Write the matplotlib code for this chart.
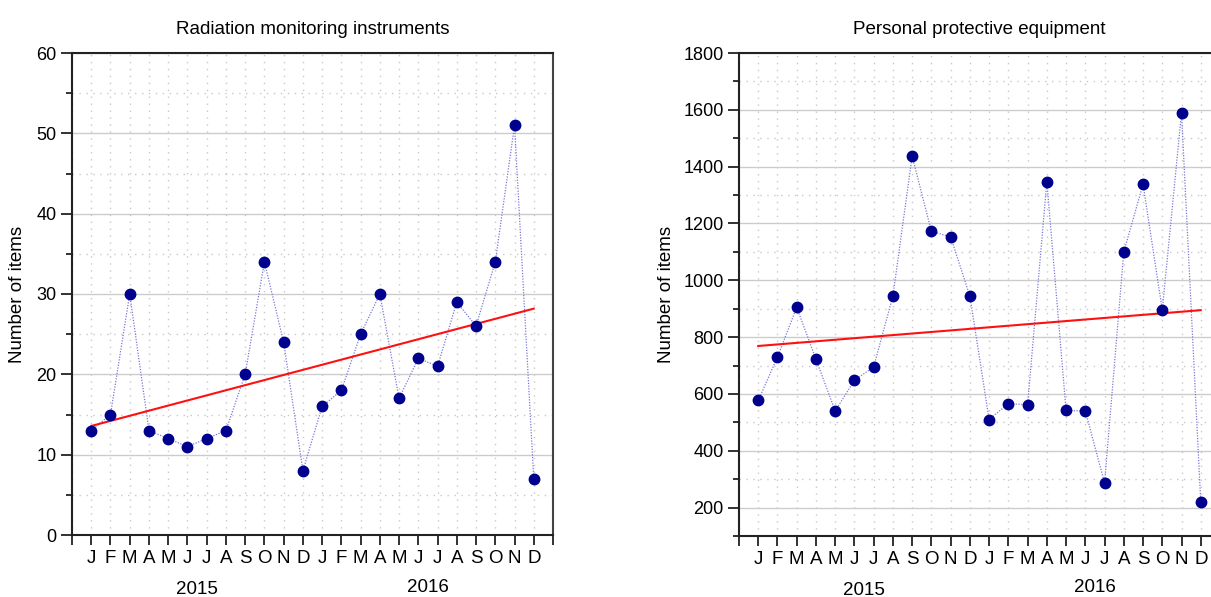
import numpy as np
import matplotlib
matplotlib.use("Agg")
import matplotlib.pyplot as plt
from matplotlib.ticker import MultipleLocator, FixedLocator

plt.rcParams['font.family'] = ['Liberation Sans', 'DejaVu Sans']
plt.rcParams['font.size'] = 13.5

months = ["J", "F", "M", "A", "M", "J", "J", "A", "S", "O", "N", "D"] * 2
years = ["2015", "2016"]

radiation = [13, 15, 30, 13, 12, 11, 12, 13, 20, 34, 24, 8,
             16, 18, 25, 30, 17, 22, 21, 29, 26, 34, 51, 7]
ppe = [577, 730, 905, 722, 540, 648, 695, 945, 1437, 1172, 1153, 944,
       510, 566, 562, 1347, 542, 540, 287, 1100, 1338, 895, 1590, 219]

titles = ["Radiation monitoring instruments", "Personal protective equipment"]
ylims = [(0, 60), (100, 1800)]
ymajor = [10, 200]
yminor = [5, 100]

fig = plt.figure(figsize=(12.11, 5.97), dpi=100)
ax_boxes = [[72 / 1211, 62 / 597, 481 / 1211, 482 / 597],
            [739 / 1211, 61 / 597, 481 / 1211, 483 / 597]]
ylabel_x = [-0.096, -0.133]
year_y = [(-0.113, -0.108), (-0.112, -0.106)]

for i, (series, title) in enumerate(zip([radiation, ppe], titles)):
    ax = fig.add_axes(ax_boxes[i])
    x = np.arange(len(series))
    y = np.array(series, dtype=float)

    ax.set_xlim(-1, len(series))
    ax.set_ylim(*ylims[i])

    # grid: solid at major y, dotted at minor y and at every month
    ax.yaxis.set_major_locator(MultipleLocator(ymajor[i]))
    ax.yaxis.set_minor_locator(MultipleLocator(yminor[i]))
    ax.xaxis.set_major_locator(FixedLocator(np.arange(-1, len(series) + 1)))
    ax.grid(axis='y', which='major', color='#cccccc', lw=1.0, ls='-', zorder=0)
    ax.grid(axis='y', which='minor', color='#c8c8c8', lw=1.0, ls=(0, (1, 4)), zorder=0)
    ax.grid(axis='x', which='major', color='#c8c8c8', lw=1.0, ls=(0, (1, 4)), zorder=0)
    ax.set_axisbelow(True)

    labels = [""] + months + [""]
    ax.set_xticklabels(labels)
    ax.tick_params(axis='x', which='major', direction='out', length=7, width=1.3,
                   pad=4, labelsize=13.5, color='#222222')
    ax.tick_params(axis='y', which='major', direction='out', length=8, width=1.3,
                   pad=3, labelsize=13, color='#222222')
    ax.tick_params(axis='y', which='minor', direction='out', length=4, width=1.3,
                   color='#222222')

    for side in ['left', 'bottom', 'top']:
        ax.spines[side].set_color('#222222')
        ax.spines[side].set_linewidth(1.5)
    ax.spines['right'].set_color('#444444')
    ax.spines['right'].set_linewidth(1.5)

    # data series with dotted connecting line
    ax.plot(x, y, color='#7878d8', lw=0.9, ls=(0, (1, 1.2)), zorder=2)
    ax.plot(x, y, ls='none', marker='o', ms=7.5, color='#00008f',
            markeredgecolor='#00008f', zorder=4)

    # linear trend
    slope, intercept = np.polyfit(x, y, 1)
    ax.plot(x[[0, -1]], slope * x[[0, -1]] + intercept, color='#ff1010', lw=1.5, zorder=3)

    ax.set_title(title, fontsize=13.5, pad=14)
    ax.set_ylabel("Number of items", fontsize=13.5)
    ax.yaxis.set_label_coords(ylabel_x[i], 0.5)

    # year labels centred under each year's months
    for k, yr in enumerate(years):
        xc = 12 * k + 5.5
        ax.text(xc, year_y[i][k], yr, transform=ax.get_xaxis_transform(),
                ha='center', va='center', fontsize=13.5)

fig.savefig("out.png", dpi=100)
